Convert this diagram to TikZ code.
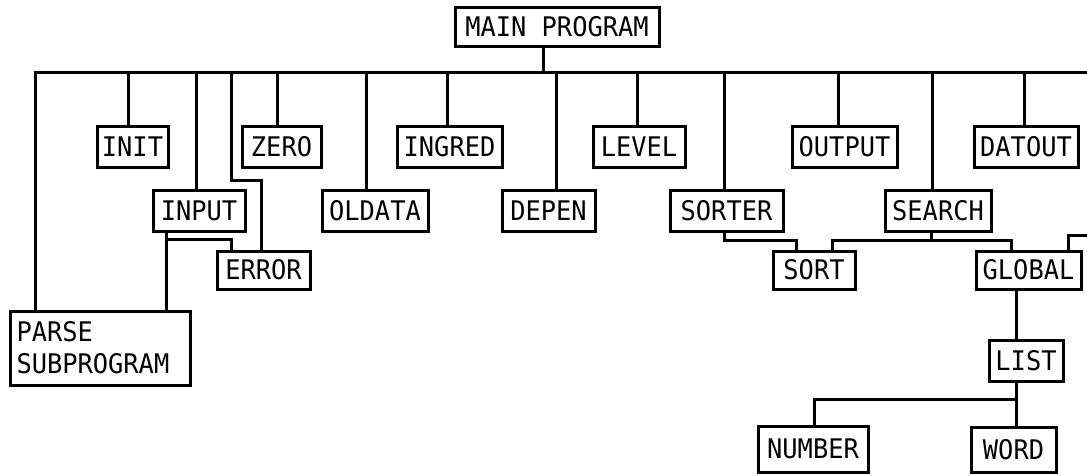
\documentclass[tikz,border=0pt]{standalone}
\usepackage{fontspec}
\newfontfamily\chartfont[FakeStretch=0.94]{DejaVu Sans Mono}
\begin{document}
\begin{tikzpicture}[x=1pt,y=-1pt,
  modbox/.style={draw, line width=3pt, inner sep=0pt, align=center,
    font=\chartfont\fontsize{27}{32}\selectfont},
  link/.style={line width=3pt, line cap=rect, line join=miter}]
\useasboundingbox (0,0) rectangle (1087,475);

% modules
\node[modbox, minimum width=204, minimum height=39] (main)   at (557,26.5)   {MAIN PROGRAM};
\node[modbox, minimum width=71,  minimum height=41] (init)   at (132.5,146.5) {INIT};
\node[modbox, minimum width=79,  minimum height=41] (zero)   at (281.5,146.5) {ZERO};
\node[modbox, minimum width=105, minimum height=41] (ingred) at (449.5,146.5) {INGRED};
\node[modbox, minimum width=92,  minimum height=41] (level)  at (639,146.5)   {LEVEL};
\node[modbox, minimum width=105, minimum height=41] (output) at (844.5,146.5) {OUTPUT};
\node[modbox, minimum width=104, minimum height=41] (datout) at (1026,146.5)  {DATOUT};

\node[modbox, minimum width=92,  minimum height=41] (input)  at (199,210.5)   {INPUT};
\node[modbox, minimum width=106, minimum height=41] (oldata) at (375,210.5)   {OLDATA};
\node[modbox, minimum width=93,  minimum height=41] (depen)  at (548.5,210.5) {DEPEN};
\node[modbox, minimum width=113, minimum height=41] (sorter) at (726.5,210.5) {SORTER};
\node[modbox, minimum width=106, minimum height=41] (search) at (938,210.5)   {SEARCH};

\node[modbox, minimum width=93,  minimum height=38] (error)  at (263.5,270)   {ERROR};
\node[modbox, minimum width=82,  minimum height=38] (sort)   at (814,270)     {SORT};
\node[modbox, minimum width=105, minimum height=38] (global) at (1028.5,270)  {GLOBAL};

\node[modbox, minimum width=180, minimum height=74, align=left,
      text width=167, inner xsep=0pt] (parse) at (100,348) {PARSE\\SUBPROGRAM};
\node[modbox, minimum width=74,  minimum height=41] (list)   at (1026,360.5)  {LIST};
\node[modbox, minimum width=110, minimum height=46] (number) at (813,449)      {NUMBER};
\node[modbox, minimum width=85,  minimum height=45] (word)   at (1013.5,449.5) {WORD};

% main bus
\coordinate (busL) at (35,72);
\coordinate (busR) at (1087,72);
\draw[link] (busL) -- (busR);
\draw[link] (main.south -| 543,0) -- (543,72);

% drops from the bus
\draw[link] (busL) -- (busL |- parse.north);
\coordinate (bInit)   at (128,72);
\coordinate (bInput)  at (196,72);
\coordinate (bError)  at (231,72);
\coordinate (bZero)   at (277,72);
\coordinate (bOldata) at (366,72);
\coordinate (bIngred) at (447,72);
\coordinate (bDepen)  at (556,72);
\coordinate (bLevel)  at (637,72);
\coordinate (bSorter) at (724,72);
\coordinate (bOutput) at (838,72);
\coordinate (bSearch) at (932,72);
\coordinate (bDatout) at (1024,72);
\draw[link] (bInit)   -- (bInit   |- init.north);
\draw[link] (bInput)  -- (bInput  |- input.north);
\draw[link] (bZero)   -- (bZero   |- zero.north);
\draw[link] (bOldata) -- (bOldata |- oldata.north);
\draw[link] (bIngred) -- (bIngred |- ingred.north);
\draw[link] (bDepen)  -- (bDepen  |- depen.north);
\draw[link] (bLevel)  -- (bLevel  |- level.north);
\draw[link] (bSorter) -- (bSorter |- sorter.north);
\draw[link] (bOutput) -- (bOutput |- output.north);
\draw[link] (bSearch) -- (bSearch |- search.north);
\draw[link] (bDatout) -- (bDatout |- datout.north);
\draw[link] (bError) -- (231,180) -- (261,180) -- (261,0 |- error.north);

% INPUT calls PARSE and ERROR
\draw[link] (input.south -| 166,0) -- (166,0 |- parse.north);
\draw[link] (166,239) -- (231,239) -- (231,0 |- error.north);

% SORTER and SEARCH calls
\draw[link] (sorter.south -| 724,0) -- (724,240) -- (796,240) -- (796,0 |- sort.north);
\draw[link] (search.south -| 931,0) -- (931,240);
\draw[link] (832,0 |- sort.north) -- (832,240) -- (1011,240) -- (1011,0 |- global.north);

% GLOBAL entry from the right
\coordinate (gEdge) at (1087,235);
\draw[link] (global.north -| 1068,0) -- (1068,235) -- (gEdge);

% GLOBAL -> LIST -> NUMBER, WORD
\draw[link] (global.south -| 1016,0) -- (1016,0 |- list.north);
\draw[link] (list.south -| 1016,0) -- (1016,0 |- word.north);
\draw[link] (1016,399) -- (814,399) -- (814,0 |- number.north);
\end{tikzpicture}
\end{document}
